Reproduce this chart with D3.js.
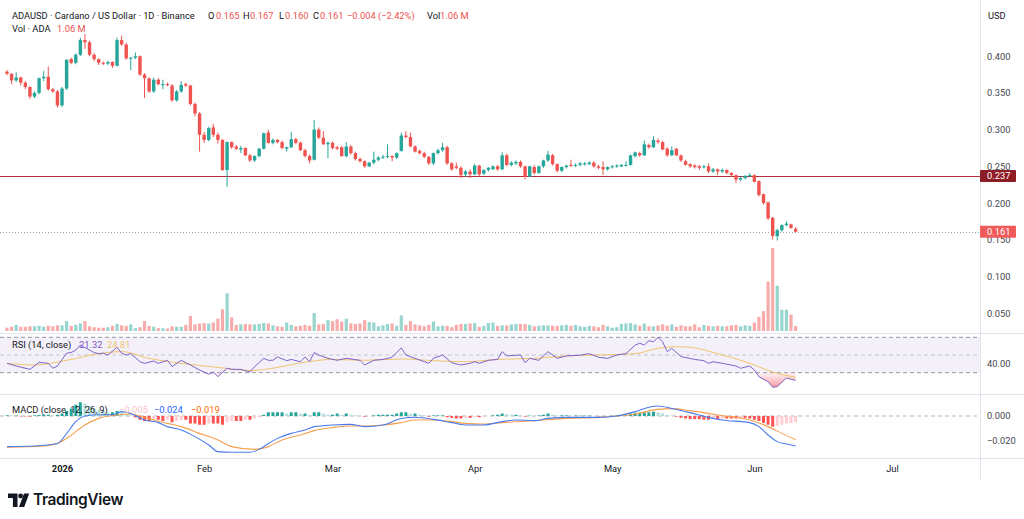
<!DOCTYPE html>
<html><head><meta charset="utf-8">
<script src="https://cdn.jsdelivr.net/npm/d3@7"></script>
<style>
html,body{margin:0;padding:0;background:#fff;}
svg{display:block;font-family:Roboto,"Liberation Sans",Arial,sans-serif;}
</style></head><body>
<svg id="chart" width="1024" height="519"></svg>
<script>
// ---------------- DATA ----------------
const startDate = new Date(2025, 11, 20); // first daily candle
const open = [.379,.376,.367,.371,.364,.358,.345,.350,.370,.372, .355,.352,.333,.356,.396,.391,.402,.422,.419,.402,
 .396,.391,.390,.392,.387,.422,.416,.397,.398,.400, .375,.370,.352,.368,.361,.362,.360,.340,.352,.362,
 .360,.335,.322,.293,.286,.303,.293,.286,.245,.283, .277,.273,.275,.265,.258,.264,.274,.296,.282,.286,
 .283,.274,.276,.287,.282,.272,.264,.259,.300,.289, .280,.282,.276,.276,.264,.277,.268,.260,.257,.250,
 .255,.259,.262,.263,.264,.262,.271,.292,.290,.277, .271,.268,.263,.254,.268,.272,.276,.254,.250,.248,
 .239,.243,.239,.251,.240,.245,.246,.250,.246,.265, .252,.254,.256,.250,.236,.249,.241,.250,.258,.265,
 .253,.244,.249,.252,.251,.252,.253,.253,.255,.250, .249,.246,.249,.250,.250,.251,.252,.264,.268,.265,
 .279,.276,.285,.283,.274,.265,.274,.265,.257,.253, .251,.250,.249,.250,.243,.246,.243,.245,.241,.238,
 .232,.234,.237,.238,.230,.212,.201,.180,.155,.163, .170,.171,.165];
const high = [.381,.377,.378,.372,.366,.359,.352,.371,.380,.386, .357,.354,.358,.396,.398,.404,.425,.430,.421,.404,
 .397,.393,.394,.393,.425,.428,.418,.399,.405,.401, .377,.371,.371,.370,.368,.364,.362,.354,.366,.364,
 .361,.337,.324,.297,.304,.308,.296,.287,.284,.284, .279,.278,.276,.267,.265,.275,.296,.300,.288,.287,
 .285,.277,.297,.289,.284,.274,.266,.313,.303,.298, .284,.284,.278,.278,.283,.279,.270,.262,.258,.256,
 .270,.264,.266,.280,.265,.269,.296,.298,.296,.279, .273,.270,.264,.269,.274,.282,.278,.256,.255,.250,
 .245,.246,.253,.252,.246,.249,.251,.252,.269,.267, .257,.258,.258,.251,.251,.252,.251,.259,.271,.267,
 .254,.250,.252,.259,.254,.256,.256,.257,.257,.252, .257,.250,.252,.253,.253,.257,.266,.270,.270,.285,
 .281,.291,.288,.285,.276,.277,.275,.266,.259,.254, .253,.252,.252,.254,.248,.247,.247,.246,.242,.239,
 .236,.238,.241,.239,.231,.213,.202,.181,.165,.171, .175,.172,.167];
const low = [.374,.362,.365,.360,.355,.342,.343,.348,.366,.353, .350,.330,.331,.354,.389,.389,.400,.410,.400,.393,
 .388,.388,.388,.384,.386,.414,.395,.381,.396,.373, .343,.350,.350,.360,.355,.359,.338,.338,.350,.358,
 .333,.318,.270,.282,.284,.290,.281,.244,.222,.274, .272,.268,.264,.256,.256,.262,.273,.281,.280,.281,
 .273,.270,.275,.280,.271,.262,.254,.258,.287,.279, .261,.273,.272,.263,.262,.266,.258,.255,.248,.249,
 .253,.257,.260,.261,.257,.260,.270,.288,.276,.269, .266,.261,.252,.252,.266,.270,.252,.244,.246,.234,
 .236,.234,.238,.236,.238,.243,.245,.244,.245,.250, .250,.252,.248,.232,.235,.239,.240,.248,.256,.251,
 .242,.242,.247,.249,.249,.250,.251,.252,.248,.246, .238,.244,.247,.248,.249,.250,.251,.262,.263,.264,
 .274,.275,.281,.272,.263,.264,.264,.256,.251,.248, .247,.245,.247,.241,.241,.238,.241,.239,.236,.227,
 .230,.232,.235,.228,.209,.198,.177,.150,.149,.161, .168,.165,.160];
const close = [.376,.367,.371,.364,.358,.345,.350,.370,.372,.355, .352,.333,.356,.395,.391,.402,.422,.419,.402,.396,
 .391,.390,.392,.387,.422,.416,.397,.398,.400,.375, .370,.352,.368,.362,.362,.361,.340,.352,.361,.360,
 .335,.322,.293,.286,.302,.293,.286,.245,.283,.276, .274,.275,.265,.258,.264,.274,.295,.282,.286,.283,
 .275,.276,.287,.282,.272,.264,.258,.300,.289,.280, .282,.275,.274,.264,.277,.268,.260,.257,.250,.255,
 .259,.262,.263,.264,.262,.268,.292,.290,.277,.270, .268,.263,.254,.268,.272,.276,.254,.246,.248,.238,
 .243,.239,.251,.239,.245,.248,.250,.246,.265,.252, .255,.256,.250,.236,.250,.241,.250,.258,.266,.253,
 .244,.249,.251,.251,.252,.254,.254,.255,.250,.248, .246,.249,.250,.251,.252,.252,.265,.269,.265,.280,
 .276,.286,.283,.273,.265,.272,.265,.258,.252,.250, .249,.248,.250,.243,.246,.243,.245,.241,.238,.232,
 .234,.237,.238,.229,.211,.200,.179,.155,.163,.170, .172,.166,.161];
// volume, millions of ADA
const volume = [0.7,0.9,1.3,0.9,0.9,1.0,1.0,1.1,0.9,1.1, 1.0,1.2,1.2,2.1,1.1,1.3,1.6,2.1,1.0,0.8,
 0.7,0.7,0.8,1.1,1.5,1.2,1.1,1.4,0.6,0.8, 2.1,1.1,0.9,0.6,0.6,0.5,1.0,0.9,0.9,1.3,
 3.2,1.4,1.6,1.7,1.6,1.8,2.6,4.6,8.0,2.9, 1.3,1.4,1.5,1.4,1.4,1.5,1.7,1.6,1.2,1.0,
 0.9,1.8,1.3,1.0,1.1,1.3,1.1,3.8,1.4,1.5, 2.3,2.1,2.5,2.0,2.6,1.6,1.5,1.6,2.3,1.9,
 1.8,1.0,1.2,1.5,1.6,1.1,3.3,1.3,2.1,1.4, 1.2,1.0,1.3,2.0,1.0,1.1,1.1,0.8,1.3,1.5,
 1.5,1.6,1.7,0.9,1.1,1.7,1.8,1.1,1.2,1.2, 1.4,1.5,1.5,1.5,1.3,1.0,1.1,1.2,1.2,1.1,
 1.1,1.2,1.3,1.1,1.3,1.0,0.9,1.1,1.0,0.8, 1.3,1.0,0.7,0.8,1.5,1.6,1.7,1.4,1.1,1.6,
 1.0,1.0,1.2,1.4,1.1,1.4,0.9,1.2,1.0,1.0, 1.4,0.8,1.3,1.1,1.0,1.1,1.0,1.0,1.2,1.3,
 1.0,1.2,1.1,1.8,3.0,4.2,10.5,17.6,9.6,4.5, 4.5,3.5,1.06];
// RSI(14) readings: [candle index, value]
const rsiLine = [[0,40.6],[2,37.6],[5,33.8],[7,41.7],[9,40.6],[10,35],[11,37.6],[13,52],[14,52.8],[15,55.6],[16,61.3],[18,55.6],[19,52.8],[20,51.5],[21,52],[22,50],[24,58.7],[25,52],[26,50],[27,51.5],[29,42.4],[30,40.6],[32,43.2],[33,40.6],[35,44],[36,36.8],[38,44],[40,38.7],[42,33],[44,28.2],[45,30.8],[46,25.5],[48,35],[49,33.8],[51,33.8],[53,30.8],[54,36.8],[56,46.2],[57,44],[58,44],[59,47.8],[61,43.6],[62,45],[64,42.4],[65,47.8],[66,42.4],[67,52.8],[68,50],[70,46.2],[72,44],[74,46.2],[77,44],[78,38.7],[80,44],[82,45],[84,47.5],[86,58],[87,50],[89,46.2],[92,40.6],[93,46.2],[95,50],[97,41.3],[99,38.7],[101,40.6],[102,42.4],[103,40.6],[105,44],[107,45],[108,53.8],[109,49],[112,50],[113,41.3],[114,46.2],[116,44],[118,53.8],[120,46.2],[122,49],[125,49.8],[127,51.5],[129,47.5],[131,46.2],[133,50],[135,51.5],[137,61.3],[138,63.2],[139,61.3],[140,66.2],[141,64.9],[142,70],[143,64.9],[144,53.8],[145,57.5],[147,48.2],[150,45],[152,43.6],[153,40.6],[154,42.4],[156,40.6],[159,37.6],[160,35],[162,37.6],[163,33],[164,25.5],[166,19.9],[167,13.5],[168,14.3],[170,24],[172,21.32]];
const rsiMa = [[0,40.6],[6,38.7],[13,44],[20,51.5],[25,53.8],[31,46.2],[38,40.6],[46,36],[53,32.5],[58,35],[64,41],[71,45],[78,44],[86,45.5],[93,43.6],[100,42.4],[107,45],[115,46.2],[122,49],[129,50],[137,51.5],[142,57.5],[146,59.4],[149,58.7],[155,51.5],[162,40.6],[167,30.8],[172,24.81]];
// MACD(12,26,9) in thousandths: [candle index, value]
const macdLine = [[0,-24.5],[6,-24],[11,-22],[13,-14],[15,-4.5],[17,0],[20,1],[23,1],[25,3.5],[27,2],[30,-3.2],[33,-5.3],[35,-8.5],[38,-11.2],[41,-16.5],[44,-23.2],[46,-28.5],[49,-29],[53,-29],[55,-26.7],[57,-22],[59,-17.9],[62,-13.9],[65,-11.2],[67,-8.5],[71,-7.2],[75,-6.7],[78,-8.5],[82,-7.2],[86,-2],[89,-1],[93,-2.7],[97,-5.3],[100,-7.2],[104,-7.2],[108,-4.5],[111,-3.2],[115,-3.7],[118,-1.9],[122,-1.1],[129,-1.1],[133,0],[137,3.5],[140,7],[142,8],[145,6],[149,2.7],[153,-1.1],[156,-3.2],[162,-5.3],[164,-8.5],[166,-15.2],[168,-20.5],[170,-22.4],[172,-24]];
const signalLine = [[0,-25],[8,-24],[11,-22],[13,-17.9],[17,-7.2],[20,-1.9],[24,0.8],[27,1.6],[30,-1.1],[35,-5.9],[38,-8.5],[42,-13.9],[46,-19.2],[49,-24.5],[54,-26.7],[57,-24.5],[60,-19.2],[64,-15.2],[67,-11.7],[71,-9.3],[75,-8],[78,-8],[82,-7.2],[86,-5.3],[89,-3.2],[93,-3.2],[97,-4.5],[100,-5.9],[104,-6.4],[108,-5.3],[115,-3.7],[122,-1.9],[129,-1.1],[137,1.6],[142,5.3],[145,5.9],[149,4.3],[155,0.8],[162,-3.2],[166,-8.5],[169,-13.9],[172,-19]];
const macdHist = [0.5,0.3,0.3,-0.3,-0.3,-0.5, 0.5,0.8,1,1,0.5,1,2,
 4,6,9,11,10,8,6,5,4,3,3,4,3,1,0.5,
 -1,-3,-4,-4,-3,-3,-4,-3,-5,-4,-3,-3,-6,-6,-7,-7,-6,-6,-6,-7,-5,-4,-4,-4,-3,-3,-2,-1,
 1,3,3,3,3,2,3,3,2,2,1,3,3,2,1,1,2,1,2,1,0.5,0,-0.5,0,0.5,1,1,1,1,2,3,3,2,2,1,0.5,
 -0.5,0.5,0.5,0.5,-1,-1.5,-2,-2,-1.5,-1.5,-1,-1,-0.5,0,0.5,1,2,1.5,1,1,0.5,-0.5,0.3,0,0.5,1,2,1,0.5,0.5,0.5,0.3,0.3,0.3,0.3,0.3,0,-0.3,-0.3,0,0.3,0.5,0.8,1,
 2,2.5,2.5,3,3,3.5,3,2,1,0.5,-0.5,-1.5,-2,-2.5,-2.5,-2.5,-3,-3,-2.5,-2.5,-2,-2,-2,-2,-1.5,-1.5,-2,-3,-4,-5.5,-7,-8.5,-8,-7,-6,-5.5,-5];
const priceTicks = [0.05,0.10,0.15,0.20,0.25,0.30,0.35,0.40];
const rsiTicks = [40];
const macdTicks = [0,-0.02];
const monthTicks = ["2026-01-01","2026-02-01","2026-03-01","2026-04-01","2026-05-01","2026-06-01","2026-07-01"];
const levelPrice = 0.237;
const lastPrice = 0.161;

// ---------------- LAYOUT ----------------
const svg = d3.select("#chart");
const N = close.length;
const dates = d3.range(N).map(i => d3.timeDay.offset(startDate, i));
const axisX = 980;
const x = d3.scaleTime().domain([startDate, dates[N-1]]).range([7, 795.6]);
const yP = d3.scaleLinear().domain([0.05, 0.40]).range([313.2, 56.2]);
const yV = d3.scaleLinear().domain([0, 17.6]).range([331, 248]);
const yR = d3.scaleLinear().domain([30, 70]).range([372.7, 337.3]);
const yM = d3.scaleLinear().domain([-20, 0]).range([441, 416]);      // thousandths
const yMr = d3.scaleLinear().domain([-0.02, 0]).range([441, 416]);   // real units for axis
const UP = "#26a69a", DN = "#ef5350";
const FONT = 9.3;

const defs = svg.append("defs");
function clip(id, x0, y0, w, h){ defs.append("clipPath").attr("id", id).append("rect").attr("x", x0).attr("y", y0).attr("width", w).attr("height", h); }
clip("cP", 0, 0, axisX, 333);
clip("cR", 0, 334, axisX, 60);
clip("cRlow", 0, yR(30), axisX, 394 - yR(30));
clip("cM", 0, 395, axisX, 63);
const grad = defs.append("linearGradient").attr("id", "osGrad").attr("gradientUnits", "userSpaceOnUse")
  .attr("x1", 0).attr("x2", 0).attr("y1", yR(30)).attr("y2", yR(10));
grad.append("stop").attr("offset", 0).attr("stop-color", "#f23645").attr("stop-opacity", 0.05);
grad.append("stop").attr("offset", 1).attr("stop-color", "#f23645").attr("stop-opacity", 0.6);

// separators
const sep = svg.append("g").attr("stroke", "#e0e3eb").attr("stroke-width", 1);
[333.5, 394.5, 458.5].forEach(yy => sep.append("line").attr("x1", 0).attr("x2", 1024).attr("y1", yy).attr("y2", yy));
sep.append("line").attr("x1", axisX + 0.5).attr("x2", axisX + 0.5).attr("y1", 0).attr("y2", 480);

const cd = d3.range(N).map(i => ({d: dates[i], o: open[i], h: high[i], l: low[i], c: close[i], v: volume[i]}));

// ---------------- PRICE PANE ----------------
const gP = svg.append("g").attr("clip-path", "url(#cP)");
gP.selectAll("rect.vol").data(cd).join("rect").attr("class", "vol")
  .attr("x", d => x(d.d) - 1.6).attr("width", 3.2)
  .attr("y", d => yV(d.v)).attr("height", d => yV(0) - yV(d.v))
  .attr("fill", d => d.c >= d.o ? "#97d5cf" : "#f7abaa");
gP.append("line").attr("x1", 0).attr("x2", axisX).attr("y1", Math.round(yP(levelPrice)) + 0.5).attr("y2", Math.round(yP(levelPrice)) + 0.5)
  .attr("stroke", "#b3313c").attr("stroke-width", 1);
gP.append("line").attr("x1", 0).attr("x2", axisX).attr("y1", Math.round(yP(lastPrice)) + 0.5).attr("y2", Math.round(yP(lastPrice)) + 0.5)
  .attr("stroke", "#9aa0aa").attr("stroke-width", 1).attr("stroke-dasharray", "1,2");
gP.selectAll("line.wick").data(cd).join("line").attr("class", "wick")
  .attr("x1", d => x(d.d)).attr("x2", d => x(d.d)).attr("y1", d => yP(d.h)).attr("y2", d => yP(d.l))
  .attr("stroke", d => d.c >= d.o ? UP : DN).attr("stroke-width", 1);
gP.selectAll("rect.body").data(cd).join("rect").attr("class", "body")
  .attr("x", d => x(d.d) - 1.7).attr("width", 3.4)
  .attr("y", d => yP(Math.max(d.o, d.c))).attr("height", d => Math.max(1, Math.abs(yP(d.o) - yP(d.c))))
  .attr("fill", d => d.c >= d.o ? UP : DN);

// price axis
const axP = svg.append("g").attr("transform", `translate(${axisX},0)`)
  .call(d3.axisRight(yP).tickValues(priceTicks).tickFormat(d3.format(".3f")).tickSize(0).tickPadding(7));
axP.select(".domain").remove();
svg.append("text").attr("x", 988).attr("y", 16).attr("dy", "0.35em").attr("font-size", FONT).attr("fill", "#131722").text("USD");

function badge(v, fill){
  const yy = yP(v);
  svg.append("rect").attr("x", axisX).attr("y", yy - 6).attr("width", 36).attr("height", 12).attr("rx", 1).attr("fill", fill);
  svg.append("text").attr("x", 987).attr("y", yy).attr("dy", "0.35em").attr("font-size", FONT).attr("fill", "#fff").text(d3.format(".3f")(v));
}

// ---------------- RSI PANE ----------------
const gR = svg.append("g").attr("clip-path", "url(#cR)");
gR.append("rect").attr("x", 0).attr("width", axisX).attr("y", yR(70)).attr("height", yR(30) - yR(70)).attr("fill", "#7e57c2").attr("fill-opacity", 0.09);
[[70, "#9598a1"], [50, "#c3c6ce"], [30, "#9598a1"]].forEach(([v, c]) =>
  gR.append("line").attr("x1", 0).attr("x2", axisX).attr("y1", yR(v)).attr("y2", yR(v)).attr("stroke", c).attr("stroke-dasharray", "4,3"));
const rx = d => x(dates[d[0]]);
gR.append("g").attr("clip-path", "url(#cRlow)").append("path").datum(rsiLine)
  .attr("d", d3.area().x(rx).y0(yR(30)).y1(d => yR(d[1]))).attr("fill", "url(#osGrad)");
gR.append("path").datum(rsiMa).attr("d", d3.line().x(rx).y(d => yR(d[1])).curve(d3.curveMonotoneX))
  .attr("fill", "none").attr("stroke", "#f2c46d").attr("stroke-width", 1);
gR.append("path").datum(rsiLine).attr("d", d3.line().x(rx).y(d => yR(d[1])))
  .attr("fill", "none").attr("stroke", "#7e64c8").attr("stroke-width", 1);
const axR = svg.append("g").attr("transform", `translate(${axisX},0)`)
  .call(d3.axisRight(yR).tickValues(rsiTicks).tickFormat(d3.format(".2f")).tickSize(0).tickPadding(7));
axR.select(".domain").remove();

// ---------------- MACD PANE ----------------
const gM = svg.append("g").attr("clip-path", "url(#cM)");
gM.append("line").attr("x1", 0).attr("x2", axisX).attr("y1", yM(0)).attr("y2", yM(0)).attr("stroke", "#b2b5be").attr("stroke-dasharray", "4,3");
const hd = macdHist.map((v, i) => ({d: dates[i], v, p: i ? macdHist[i-1] : v}));
gM.selectAll("rect.h").data(hd).join("rect").attr("class", "h")
  .attr("x", d => x(d.d) - 1.5).attr("width", 3)
  .attr("y", d => Math.min(yM(0), yM(d.v))).attr("height", d => Math.abs(yM(d.v) - yM(0)))
  .attr("fill", d => d.v >= 0 ? (d.v >= d.p ? "#26a69a" : "#b2dfdb") : (d.v <= d.p ? "#ff5252" : "#ffcdd2"));
gM.append("path").datum(signalLine).attr("d", d3.line().x(rx).y(d => yM(d[1])).curve(d3.curveMonotoneX))
  .attr("fill", "none").attr("stroke", "#f5a04e").attr("stroke-width", 1.1);
gM.append("path").datum(macdLine).attr("d", d3.line().x(rx).y(d => yM(d[1])).curve(d3.curveMonotoneX))
  .attr("fill", "none").attr("stroke", "#4a7bec").attr("stroke-width", 1.1);
const axM = svg.append("g").attr("transform", `translate(${axisX},0)`)
  .call(d3.axisRight(yMr).tickValues(macdTicks).tickFormat(d3.format(".3f")).tickSize(0).tickPadding(7));
axM.select(".domain").remove();

[axP, axR, axM].forEach(a => a.selectAll("text").attr("font-size", FONT).attr("fill", "#434651").attr("font-family", "Roboto,'Liberation Sans',Arial,sans-serif"));
badge(levelPrice, "#8d1c26");
badge(lastPrice, "#f05a5a");

// ---------------- TIME AXIS ----------------
const axT = svg.append("g").attr("transform", "translate(0,460)")
  .call(d3.axisBottom(x).tickValues(monthTicks.map(s => new Date(s + "T00:00:00")))
    .tickFormat(d => d.getMonth() === 0 ? d3.timeFormat("%Y")(d) : d3.timeFormat("%b")(d)).tickSize(0).tickPadding(5));
axT.select(".domain").remove();
axT.selectAll("text").attr("font-size", FONT).attr("fill", "#131722").attr("font-family", "Roboto,'Liberation Sans',Arial,sans-serif")
  .attr("font-weight", d => d.getMonth() === 0 ? 700 : 400);

// ---------------- LEGENDS ----------------
function t(xx, yy, s, fill, size){ return svg.append("text").attr("x", xx).attr("y", yy).attr("dy", "0.35em").attr("font-size", size || FONT).attr("fill", fill).text(s); }
const INK = "#131722", RED = "#ef5350";
t(12, 16, "ADAUSD · Cardano / US Dollar · 1D · Binance", INK);
t(208, 16, "O", INK); t(216, 16, "0.165", RED);
t(243, 16, "H", INK); t(250, 16, "0.167", RED);
t(279, 16, "L", INK); t(285, 16, "0.160", RED);
t(313, 16, "C", INK); t(320, 16, "0.161", RED);
t(347, 16, "−0.004 (−2.42%)", RED);
t(427, 16, "Vol", INK); t(440, 16, "1.06 M", RED);
t(12, 29, "Vol · ADA", INK); t(57, 29, "1.06 M", RED);
t(12, 345, "RSI (14, close)", INK); t(79, 345, "21.32", "#7e57c2"); t(107, 345, "24.81", "#f2c46d");
t(12, 410, "MACD (close, 12, 26, 9)", INK); t(119, 410, "−0.005", "#f8bfc6"); t(154, 410, "−0.024", "#2962ff"); t(191, 410, "−0.019", "#ff6d00");

// ---------------- LOGO ----------------
const logo = svg.append("g").attr("fill", "#131722");
logo.append("path").attr("d", "M8,493.5h9.5v13.5h-4.6v-9H8z");
logo.append("circle").attr("cx", 20.6).attr("cy", 496).attr("r", 2.4);
logo.append("path").attr("d", "M24,493.5h5.2l-5,13.5h-5.2z");
svg.append("text").attr("x", 33).attr("y", 500).attr("dy", "0.35em").attr("font-size", 15.5).attr("font-weight", 600)
  .attr("font-family", "Inter,Roboto,sans-serif").attr("letter-spacing", -0.4).attr("fill", "#131722").text("TradingView");
</script>
</body></html>
